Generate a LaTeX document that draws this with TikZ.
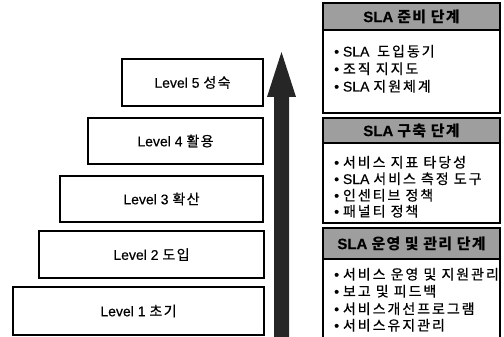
\documentclass[tikz,border=0pt]{standalone}
\usepackage{fontspec}
\setmainfont{Liberation Sans}[FakeBold=0.4]
\newfontfamily\kr{Noto Sans CJK KR}[LetterSpace=10,FakeBold=0.6]
\newfontfamily\krb{Noto Sans CJK KR}[LetterSpace=8]
\newfontfamily\kri{Noto Sans CJK KR}[LetterSpace=14,FakeBold=0.6]
\begin{document}
\begin{tikzpicture}[x=1pt,y=-1pt,
  lvl/.style={draw=black,line width=1.1pt,fill=white,inner sep=0pt,font=\fontsize{14}{16}\selectfont},
  ttl/.style={draw=black,line width=1.3pt,fill=black!38,inner sep=0pt,minimum width=177,font=\fontsize{15}{16}\selectfont\bfseries},
  body/.style={draw=black,line width=1.3pt,fill=white,inner sep=0pt,minimum width=177},
  itm/.style={anchor=west,inner sep=0pt,text height=10pt,text depth=3pt,font=\fontsize{14}{15}\selectfont}]
\useasboundingbox (0,0) rectangle (504,337);
% arrow
\fill[black!85] (274,337) -- (274,97) -- (267,97) -- (281.5,52) -- (296,97) -- (289,97) -- (289,337) -- cycle;
% levels
\node[lvl,minimum width=141,minimum height=47] (l5) at (192.5,82.5) {Level 5 {\kr 성숙}};
\node[lvl,minimum width=175,minimum height=46] (l4) at (175.5,141) {Level 4 {\kr 활용}};
\node[lvl,minimum width=203,minimum height=46] (l3) at (161.5,199) {Level 3 {\kr 확산}};
\node[lvl,minimum width=225,minimum height=47] (l2) at (151.5,254.5) {Level 2 {\kr 도입}};
\node[lvl,minimum width=251,minimum height=48] (l1) at (138.5,311) {Level 1 {\kr 초기}};
% panel 1
\node[body,minimum height=83] (b1) at (411.5,71.5) {};
\node[ttl,minimum height=27] (t1) at (411.5,16.5) {SLA {\krb\bfseries 준비 단계}};
\node[itm] (i11) at (334,53) {• SLA\ \ {\kri 도입동기}};
\node[itm] (i12) at (334,70.5) {• {\kri 조직 지지도}};
\node[itm] (i13) at (334,88) {• SLA {\kri 지원체계}};
% panel 2
\node[body,minimum height=80] (b2) at (411.5,183) {};
\node[ttl,minimum height=25] (t2) at (411.5,130.5) {SLA {\krb\bfseries 구축 단계}};
\node[itm] (i21) at (334,164) {• {\kri 서비스 지표 타당성}};
\node[itm] (i22) at (334,180.5) {• SLA {\kri 서비스 측정 도구}};
\node[itm] (i23) at (334,197) {• {\kri 인센티브 정책}};
\node[itm] (i24) at (334,213) {• {\kri 패널티 정책}};
% panel 3
\node[body,minimum height=80] (b3) at (411.5,299) {};
\node[ttl,minimum height=31] (t3) at (411.5,243.5) {SLA {\krb\bfseries 운영 및 관리 단계}};
\node[itm] (i31) at (334,276) {• {\kri 서비스 운영 및 지원관리}};
\node[itm] (i32) at (334,293) {• {\kri 보고 및 피드백}};
\node[itm] (i33) at (334,310.5) {• {\kri 서비스개선프로그램}};
\node[itm] (i34) at (334,327) {• {\kri 서비스유지관리}};
\end{tikzpicture}
\end{document}
